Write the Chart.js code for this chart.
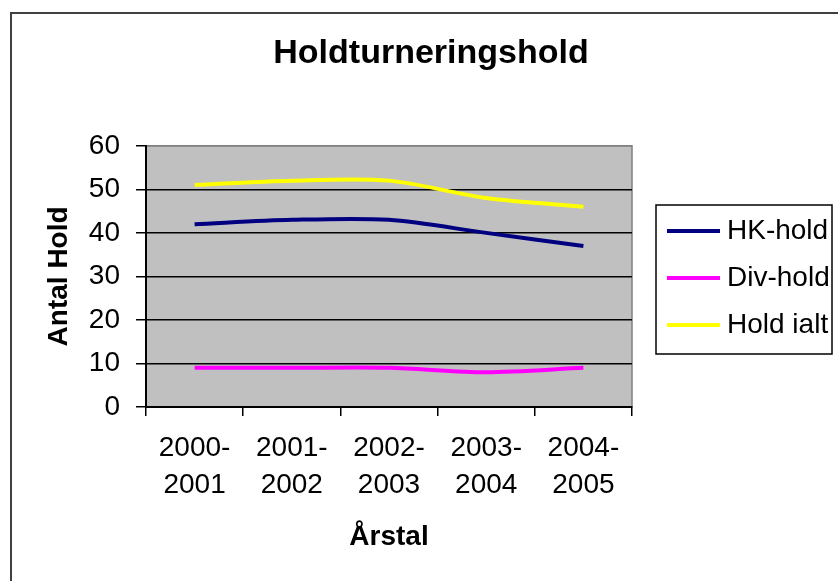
<!DOCTYPE html>
<html>
<head>
<meta charset="utf-8">
<script src="https://cdn.jsdelivr.net/npm/chart.js@4"></script>
<style>
  html, body { margin: 0; padding: 0; background: #ffffff; }
  #wrap { width: 838px; height: 581px; position: relative; }
</style>
</head>
<body>
<div id="wrap"><canvas id="chart"></canvas></div>
<script>
// Holdturneringshold - data
const seasons = [['2000-', '2001'], ['2001-', '2002'], ['2002-', '2003'], ['2003-', '2004'], ['2004-', '2005']];
const hkHold = [42, 43, 43, 40, 37];
const divHold = [9, 9, 9, 8, 9];
const holdIalt = [51, 52, 52, 48, 46];
const yTicks = [0, 10, 20, 30, 40, 50, 60];

const FONT = "'Liberation Sans', Arial, sans-serif";

// white page, frame and grey plot area
const backdrop = {
    id: 'backdrop',
    beforeDraw(chart) {
        const { ctx, chartArea: a } = chart;
        ctx.save();
        ctx.fillStyle = '#ffffff';
        ctx.fillRect(0, 0, chart.width, chart.height);
        ctx.strokeStyle = '#404040';
        ctx.lineWidth = 2;
        ctx.beginPath();
        ctx.moveTo(11, chart.height + 2);
        ctx.lineTo(11, 13);
        ctx.lineTo(chart.width + 2, 13);
        ctx.stroke();
        ctx.fillStyle = '#c0c0c0';
        ctx.fillRect(a.left, a.top, a.right - a.left, a.bottom - a.top);
        ctx.strokeStyle = '#808080';
        ctx.lineWidth = 1.5;
        ctx.strokeRect(a.left, a.top, a.right - a.left, a.bottom - a.top);
        ctx.restore();
    }
};

// boxed legend on the right, like Excel
const boxLegend = {
    id: 'boxLegend',
    afterDraw(chart) {
        const { ctx } = chart;
        ctx.save();
        ctx.strokeStyle = '#000000';
        ctx.lineWidth = 1.5;
        ctx.strokeRect(656, 205, 176, 149);
        ctx.font = '28px ' + FONT;
        ctx.textBaseline = 'middle';
        ctx.textAlign = 'left';
        chart.data.datasets.forEach((ds, i) => {
            const y = 231 + i * 47;
            ctx.strokeStyle = ds.borderColor;
            ctx.lineWidth = 4;
            ctx.beginPath();
            ctx.moveTo(667, y);
            ctx.lineTo(720, y);
            ctx.stroke();
            ctx.fillStyle = '#000000';
            ctx.fillText(ds.label, 727, y);
        });
        ctx.restore();
    }
};

const ctx = document.getElementById('chart').getContext('2d');
new Chart(ctx, {
    type: 'line',
    data: {
        labels: seasons,
        datasets: [
            { label: 'HK-hold', data: hkHold, borderColor: '#000080' },
            { label: 'Div-hold', data: divHold, borderColor: '#ff00ff' },
            { label: 'Hold ialt', data: holdIalt, borderColor: '#ffff00' }
        ]
    },
    options: {
        responsive: true,
        maintainAspectRatio: false,
        animation: false,
        layout: { padding: { left: 24, right: 0, top: 0, bottom: 0 } },
        elements: {
            line: { borderWidth: 4, tension: 0.3, fill: false },
            point: { radius: 0, hoverRadius: 0 }
        },
        plugins: {
            legend: { display: false },
            tooltip: { enabled: false },
            title: {
                display: true,
                text: 'Holdturneringshold',
                color: '#000000',
                font: { family: FONT, size: 34, weight: 'bold', lineHeight: 1.2 },
                padding: { top: 33, bottom: 72 }
            }
        },
        scales: {
            x: {
                offset: true,
                grid: {
                    offset: true,
                    drawOnChartArea: false,
                    drawTicks: true,
                    tickLength: 9,
                    color: '#000000',
                    lineWidth: 1.5
                },
                border: { display: true, color: '#000000', width: 2 },
                ticks: {
                    color: '#000000',
                    padding: 14,
                    maxRotation: 0,
                    autoSkip: false,
                    font: { family: FONT, size: 28, lineHeight: 1.32 }
                },
                title: {
                    display: true,
                    text: 'Årstal',
                    color: '#000000',
                    font: { family: FONT, size: 28, weight: 'bold', lineHeight: 1.2 },
                    padding: { top: 0, bottom: 27 }
                },
                afterFit(scale) { scale.height = 174; }
            },
            y: {
                min: 0,
                max: 60,
                afterBuildTicks(scale) { scale.ticks = yTicks.map(v => ({ value: v })); },
                grid: {
                    color: c => (c.tick && c.tick.value === 60 ? '#808080' : '#000000'),
                    tickColor: '#000000',
                    lineWidth: 1.5,
                    tickLength: 10
                },
                border: { display: true, color: '#000000', width: 2 },
                ticks: {
                    color: '#000000',
                    padding: 16,
                    font: { family: FONT, size: 28 }
                },
                title: {
                    display: true,
                    text: 'Antal Hold',
                    color: '#000000',
                    font: { family: FONT, size: 28, weight: 'bold', lineHeight: 1.2 },
                    padding: { top: 18, bottom: 0 }
                },
                afterFit(scale) { scale.width = 122; }
            },
            // empty right axis only keeps room for the legend box
            side: {
                position: 'right',
                display: true,
                grid: { display: false },
                border: { display: false },
                ticks: { display: false },
                afterFit(scale) { scale.width = 206; }
            }
        }
    },
    plugins: [backdrop, boxLegend]
});
</script>
</body>
</html>
